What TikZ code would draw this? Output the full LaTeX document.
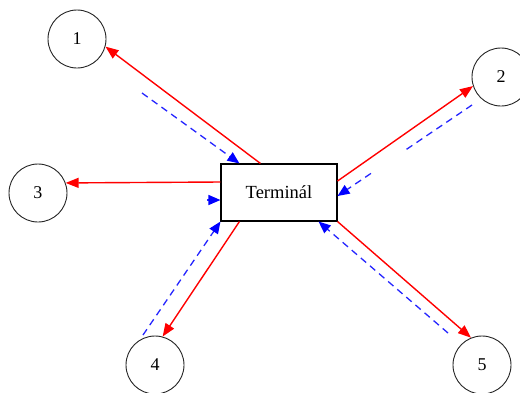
\documentclass[tikz,border=0pt]{standalone}
\usepackage{fontspec}
\setmainfont{Liberation Serif}
\usetikzlibrary{arrows.meta,calc}
\begin{document}
\begin{tikzpicture}[x=1pt,y=-1pt,
  station/.style={circle,draw=black!85,line width=0.9pt,minimum size=58pt,inner sep=0pt,font=\fontsize{18}{20}\selectfont},
  term/.style={draw=black,fill=white,line width=1.1pt,minimum width=116pt,minimum height=57pt,inner sep=0pt,font=\fontsize{18.5}{22}\selectfont},
  req/.style={draw=red,line width=1.4pt,-{Triangle[length=13pt,width=10pt,fill=red]}},
  ans/.style={draw=blue!85!white,dash pattern=on 7pt off 5pt,line width=1.3pt,-{Triangle[length=12pt,width=10pt,fill=blue,color=blue]}}]
\useasboundingbox (0,0) rectangle (520,392);
\fill[white] (0,0) rectangle (520,392);
\node[term] (T) at (279,192.5) {Terminál};
\node[station] (c1) at (77,39) {1};
\node[station] (c2) at (501,77) {2};
\node[station] (c3) at (38,193) {3};
\node[station] (c4) at (155,365) {4};
\node[station] (c5) at (482,365) {5};
\coordinate (s1) at (142,93);
\coordinate (s2) at (472,105);
\coordinate (s3) at (207,200);
\coordinate (s4) at (143,335);
\coordinate (s5) at (448,333);
% requests (red)
\draw[req] ($(T.north west)+(40,0)$) -- (c1.-15);
\draw[req] ($(T.east)+(0,-11.5)$) -- (c2.198);
\draw[req] ($(T.west)+(0,-10.5)$) -- (c3.20);
\draw[req] ($(T.south west)+(19,0)$) -- (c4.75);
\draw[req] (T.south east) -- (c5.112);
% answers (blue dashed)
\draw[ans] (s1) -- ($(T.north west)+(19,0)$);
\draw[ans,dash pattern=on 7pt off 5pt on 7pt off 5pt on 7pt off 5pt on 7pt off 5pt on 7pt off 5pt on 7pt off 5pt on 7pt off 43pt on 7pt off 5pt on 7pt off 5pt on 7pt off 100pt] (s2) -- ($(T.east)+(0,3.5)$);
\draw[ans,solid] (s3) -- ($(T.west)+(0,7.5)$);
\draw[ans] (s4) -- (T.south west);
\draw[ans] (s5) -- ($(T.south east)+(-19,0)$);
\end{tikzpicture}
\end{document}
